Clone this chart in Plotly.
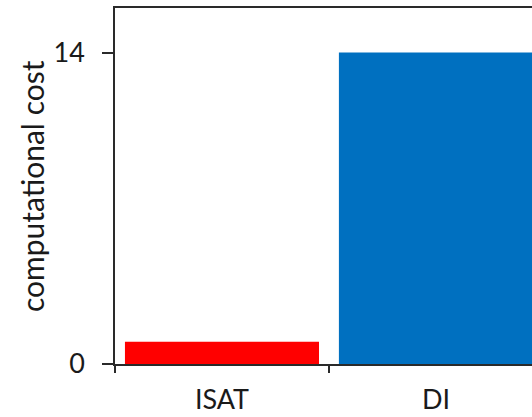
import plotly.graph_objects as go

# Computational cost per method
methods = ["ISAT", "DI"]
cost = [1, 14]
bar_colors = ["#FF0000", "#0070C0"]

y_ticks = [0, 14]
y_title = "computational cost"

font_family = "Lato, 'Open Sans', sans-serif"
text_color = "#1a1a1a"
line_color = "#2a2a2a"

fig = go.Figure(
    go.Bar(
        x=methods,
        y=cost,
        marker=dict(color=bar_colors, line=dict(width=0)),
        showlegend=False,
    )
)

fig.update_layout(
    width=532,
    height=417,
    margin=dict(l=115, r=0, t=8, b=53),
    paper_bgcolor="white",
    plot_bgcolor="white",
    bargap=0.093,
    font=dict(family=font_family, size=27, color=text_color),
)

fig.update_xaxes(
    type="category",
    range=[-0.5, 1.449],
    automargin=False,
    tickson="boundaries",
    ticks="outside",
    ticklen=7,
    tickwidth=1.5,
    tickcolor=line_color,
    showline=True,
    linecolor=line_color,
    linewidth=1.5,
    mirror=True,
    showgrid=False,
    zeroline=False,
    ticklabelstandoff=11,
    tickfont=dict(size=27, family=font_family, color=text_color),
)

fig.update_yaxes(
    range=[0, 16],
    automargin=False,
    tickvals=y_ticks,
    ticktext=[str(v) for v in y_ticks],
    ticks="outside",
    ticklen=11,
    tickwidth=1.5,
    tickcolor=line_color,
    showline=True,
    linecolor=line_color,
    linewidth=1.5,
    showgrid=False,
    zeroline=False,
    ticklabelstandoff=12,
    tickfont=dict(size=27, family=font_family, color=text_color),
)

# Vertical axis title, placed to the left of the tick labels
fig.add_annotation(
    text=y_title,
    textangle=-90,
    xref="paper",
    yref="paper",
    x=-0.199,
    y=0.5,
    xanchor="center",
    yanchor="middle",
    showarrow=False,
    font=dict(size=30, family=font_family, color=text_color),
)

fig.write_html("out.html")
